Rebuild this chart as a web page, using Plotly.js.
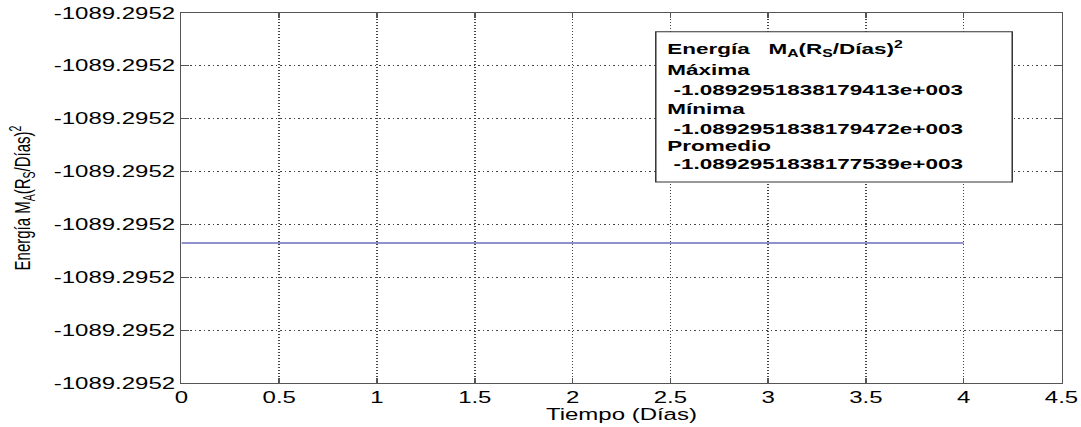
<!DOCTYPE html>
<html>
<head>
<meta charset="utf-8">
<script src="https://cdn.plot.ly/plotly-3.0.1.min.js"></script>
<style>
  html, body { margin: 0; padding: 0; background: #fff; overflow: hidden; }
  #wrap { width: 1081px; height: 427px; overflow: hidden; }
  #plot { width: 721px; height: 427px; transform: scaleX(1.4993); transform-origin: 0 0; }
</style>
</head>
<body>
<div id="wrap"><div id="plot"></div></div>
<script>
// ---- data ----
const tiempoDias = [0, 1, 2, 3, 4];
// energy position relative to the (all "-1089.2952") tick grid
const energiaRel = [2.65, 2.65, 2.65, 2.65, 2.65];
const xTickVals = [0, 0.5, 1, 1.5, 2, 2.5, 3, 3.5, 4, 4.5];
const xTickText = ['0', '0.5', '1', '1.5', '2', '2.5', '3', '3.5', '4', '4.5'];
const yTickVals = [0, 1, 2, 3, 4, 5, 6, 7];
const yTickText = ['-1089.2952', '-1089.2952', '-1089.2952', '-1089.2952',
                   '-1089.2952', '-1089.2952', '-1089.2952', '-1089.2952'];
const statHeader = 'Energía\u00A0\u00A0\u00A0M<sub>A</sub>(R<sub>S</sub>/Días)<sup>2</sup>';
const statLabels = ['Máxima', 'Mínima', 'Promedio'];
const statValues = ['-1.0892951838179413e+003', '-1.0892951838179472e+003', '-1.0892951838177539e+003'];

const FONT = 'Liberation Sans, Arial, Helvetica, sans-serif';

// text lines of the info box
const boxLines = [statHeader];
for (let i = 0; i < statLabels.length; i++) {
  boxLines.push(statLabels[i]);
  boxLines.push('\u00A0' + statValues[i]);
}
const lineY = [0.903, 0.846, 0.792, 0.743, 0.689, 0.643, 0.592];

const annotations = boxLines.map((t, i) => ({
  xref: 'paper', yref: 'paper', x: 0.549, y: lineY[i],
  xanchor: 'left', yanchor: 'middle', showarrow: false,
  text: '<b>' + t + '</b>',
  font: { family: FONT, size: 15, color: '#000' }
}));

const trace = {
  x: tiempoDias, y: energiaRel, type: 'scatter', mode: 'lines',
  line: { color: '#23239a', width: 1 }, hoverinfo: 'none'
};

const axisCommon = {
  showline: true, linecolor: '#555', linewidth: 1, mirror: 'ticks',
  ticks: 'inside', ticklen: 5, tickcolor: '#555', tickwidth: 1,
  showgrid: true, gridcolor: '#444', gridwidth: 1, griddash: '1px,2px',
  zeroline: false, tickfont: { family: FONT, size: 16, color: '#000' }
};

const layout = {
  width: 721, height: 427,
  margin: { l: 121, r: 13, t: 13, b: 44, pad: 0 },
  paper_bgcolor: '#fff', plot_bgcolor: '#fff',
  showlegend: false,
  xaxis: Object.assign({}, axisCommon, {
    range: [0, 4.5], tickmode: 'array', tickvals: xTickVals, ticktext: xTickText,
    title: { text: 'Tiempo (Días)', font: { family: FONT, size: 16, color: '#000' }, standoff: 1 }
  }),
  yaxis: Object.assign({}, axisCommon, {
    range: [0, 7], tickmode: 'array', tickvals: yTickVals, ticktext: yTickText,
    title: { text: 'Energía M<sub>A</sub>(R<sub>S</sub>/Días)<sup>2</sup>', font: { family: FONT, size: 15, color: '#000' }, standoff: 11 }
  }),
  shapes: [{
    type: 'rect', xref: 'paper', yref: 'paper',
    x0: 0.539, x1: 0.944, y0: 0.543, y1: 0.949,
    line: { color: '#333', width: 1 }, fillcolor: '#fff', layer: 'above'
  }],
  annotations: annotations
};

Plotly.newPlot('plot', [trace], layout, { displayModeBar: false, staticPlot: true });
</script>
</body>
</html>
